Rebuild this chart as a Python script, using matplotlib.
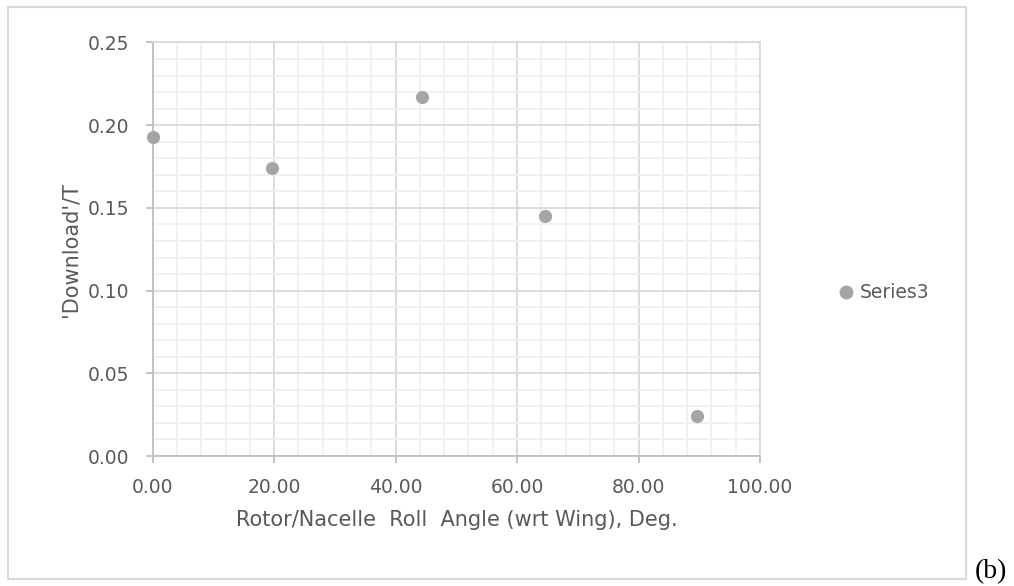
import numpy as np
import matplotlib.pyplot as plt
from matplotlib.patches import Rectangle
from matplotlib.lines import Line2D

# data
roll_angle = [0.0, 19.7, 44.4, 64.6, 89.7]
download_ratio = [0.193, 0.174, 0.217, 0.145, 0.024]
series_name = "Series3"
x_ticks = [0, 20, 40, 60, 80, 100]
y_ticks = [0.00, 0.05, 0.10, 0.15, 0.20, 0.25]

plt.rcParams['font.family'] = ['DejaVu Sans']
txt = '#595959'

fig = plt.figure(figsize=(10.14, 5.86), dpi=100)
ax = fig.add_axes([0.1506, 0.2218, 0.5989, 0.7057])

ax.scatter(roll_angle, download_ratio, s=90, color='#a5a5a5', zorder=3,
           clip_on=False, linewidths=0)

ax.set_xlim(0, 100)
ax.set_ylim(0, 0.25)
ax.set_xticks(x_ticks)
ax.set_yticks(y_ticks)
ax.set_xticks(np.arange(0, 101, 4), minor=True)
ax.set_yticks(np.arange(0, 0.2501, 0.01), minor=True)
ax.set_xticklabels([f"{v:.2f}" for v in x_ticks])
ax.set_yticklabels([f"{v:.2f}" for v in y_ticks])

ax.grid(which='major', color='#d9d9d9', linewidth=1.3)
ax.grid(which='minor', color='#f0f0f0', linewidth=1.3)
ax.set_axisbelow(True)

for s in ['left', 'bottom']:
    ax.spines[s].set_color('#bfbfbf')
    ax.spines[s].set_linewidth(1.3)
for s in ['top', 'right']:
    ax.spines[s].set_color('#d9d9d9')
    ax.spines[s].set_linewidth(1.3)

ax.tick_params(which='major', length=5, width=1.3, color='#bfbfbf',
               labelsize=13.5, labelcolor=txt)
ax.tick_params(axis='x', pad=11)
ax.tick_params(axis='y', pad=12)
ax.tick_params(which='minor', length=0)

ax.set_xlabel("Rotor/Nacelle  Roll  Angle (wrt Wing), Deg.", fontsize=15,
              color=txt, labelpad=9)
ax.set_ylabel("'Download'/T", fontsize=15, color=txt, labelpad=5)

# legend placed to the right like Excel
leg_handle = Line2D([], [], marker='o', linestyle='', color='#a5a5a5',
                    markersize=9)
fig.legend([leg_handle], [series_name], loc='center left',
           bbox_to_anchor=(0.807, 0.5), frameon=False, fontsize=13.5,
           labelcolor=txt, handletextpad=0.1, handlelength=1.2)

# chart border
fig.patches.append(Rectangle((8 / 1014, 7 / 586), 958 / 1014, 572 / 586,
                             transform=fig.transFigure, fill=False,
                             edgecolor='#d9d9d9', linewidth=1.5))
fig.text(0.9615, 0.014, "(b)", fontsize=20, family='Liberation Serif',
         color='black', va='baseline')

fig.savefig('out.png', dpi=100)
